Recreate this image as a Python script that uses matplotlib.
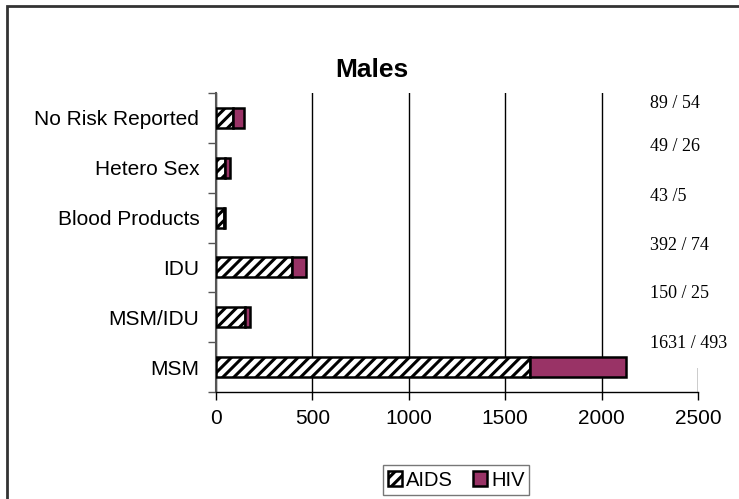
import matplotlib.pyplot as plt
import matplotlib.patches as mpatches
import numpy as np

plt.rcParams['font.family'] = ['Liberation Sans', 'DejaVu Sans']
plt.rcParams['hatch.linewidth'] = 2.2

# data (bottom to top)
categories = ['MSM', 'MSM/IDU', 'IDU', 'Blood Products', 'Hetero Sex', 'No Risk Reported']
aids = [1631, 150, 392, 43, 49, 89]
hiv = [493, 25, 74, 5, 26, 54]
labels = ['1631 / 493', '150 / 25', '392 / 74', '43 /5', '49 / 26', '89 / 54']

hiv_color = '#993366'

fig = plt.figure(figsize=(7.39, 4.99), dpi=100, facecolor='white')
ax = fig.add_axes([216 / 739, 1 - 392 / 499, 482 / 739, 299 / 499])

y = np.arange(len(categories))
ax.barh(y, aids, height=0.4, color='white', edgecolor='black', hatch='///',
        linewidth=1.8, zorder=3, label='AIDS')
ax.barh(y, hiv, left=aids, height=0.4, color=hiv_color, edgecolor='black',
        linewidth=1.8, zorder=3, label='HIV')

ax.set_xlim(0, 2500)
ax.set_ylim(-0.5, len(categories) - 0.5)
ax.set_xticks(np.arange(0, 2501, 500))
ax.set_yticks(y)
ax.set_yticklabels(categories)
ax.set_yticks(np.arange(-0.5, len(categories)), minor=True)
ax.tick_params(axis='y', which='major', length=0, pad=12, labelsize=15)
ax.tick_params(axis='y', which='minor', length=6, width=1, color='#555555')
ax.tick_params(axis='x', length=6, width=1, labelsize=15, pad=6)
ax.grid(axis='x', color='black', linewidth=1, zorder=0)

for s in ['top', 'right']:
    ax.spines[s].set_visible(False)
ax.spines['left'].set_color('#555555')
ax.spines['left'].set_linewidth(1.5)
ax.spines['bottom'].set_linewidth(1)

# white area behind the value labels (hides the 2500 gridline there)
fig.patches.append(mpatches.Rectangle((650 / 739, 1 - 368 / 499), 89 / 739, 280 / 499,
                                      transform=fig.transFigure, facecolor='white',
                                      edgecolor='none', zorder=5))

# value labels on the right, a bit above each bar
offsets = [0.48, 0.48, 0.44, 0.42, 0.42, 0.28]
for i, (lab, off) in enumerate(zip(labels, offsets)):
    yp = ax.transData.transform((0, i + off))[1]
    fig.text(650 / 739, yp / fig.bbox.height, lab, family='Liberation Serif',
             fontsize=13, va='center', ha='left', zorder=6)

fig.text(0.503, 1 - 70 / 499, 'Males', fontsize=19, fontweight='bold',
         ha='center', va='center')

leg = fig.legend(loc='center', bbox_to_anchor=(456 / 739, 1 - 480 / 499),
                 ncol=2, fontsize=14.5, frameon=True, fancybox=False,
                 handlelength=0.7, handleheight=0.7, handletextpad=0.2,
                 columnspacing=1.0, borderpad=0.25)
leg.get_frame().set_edgecolor('#555555')
leg.get_frame().set_linewidth(1)

# outer chart border (only left and top visible in the crop)
fig.patches.append(mpatches.Rectangle((7 / 739, -0.1), 1.1, 1 - 6 / 499 + 0.1,
                                      transform=fig.transFigure, fill=False,
                                      edgecolor='#333333', linewidth=2))

fig.savefig('out.png', dpi=100, facecolor='white')
